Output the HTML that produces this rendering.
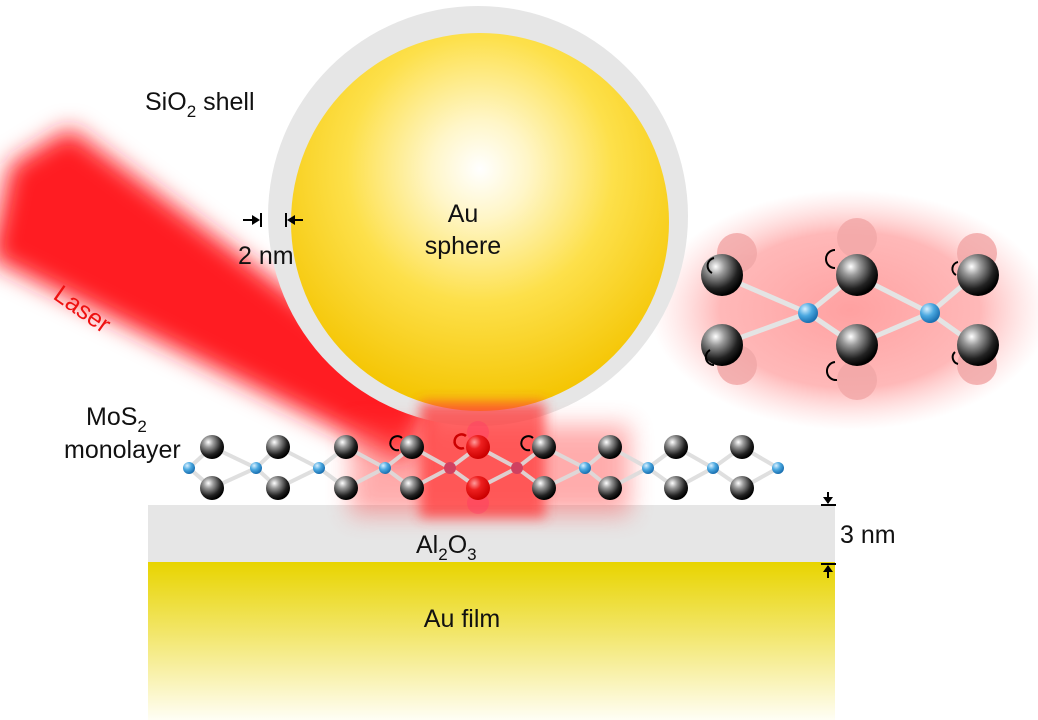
<!DOCTYPE html>
<html><head><meta charset="utf-8"><style>
html,body{margin:0;padding:0;background:#fff;}
svg{display:block;font-family:"Liberation Sans",sans-serif;}
</style></head><body>
<svg width="1038" height="720" viewBox="0 0 1038 720" xmlns="http://www.w3.org/2000/svg">
<defs>
<radialGradient id="gold" cx="0.5" cy="0.36" r="0.64">
<stop offset="0" stop-color="#ffffff"/><stop offset="0.2" stop-color="#fff6c8"/><stop offset="0.55" stop-color="#fde04a"/><stop offset="1" stop-color="#f4c400"/></radialGradient>
<linearGradient id="film" x1="0" y1="0" x2="0" y2="1">
<stop offset="0" stop-color="#e8d400"/><stop offset="0.45" stop-color="#f2e66a"/><stop offset="1" stop-color="#fffef5"/></linearGradient>
<radialGradient id="sph" cx="0.35" cy="0.3" r="0.7">
<stop offset="0" stop-color="#ffffff"/><stop offset="0.3" stop-color="#9a9a9a"/><stop offset="0.75" stop-color="#222"/><stop offset="1" stop-color="#000"/></radialGradient>
<radialGradient id="rsph" cx="0.35" cy="0.3" r="0.7">
<stop offset="0" stop-color="#ff9a9a"/><stop offset="0.4" stop-color="#ee2020"/><stop offset="1" stop-color="#c00"/></radialGradient>
<radialGradient id="mo" cx="0.35" cy="0.3" r="0.7">
<stop offset="0" stop-color="#d8f0ff"/><stop offset="0.5" stop-color="#4aa8e0"/><stop offset="1" stop-color="#1a6fb0"/></radialGradient>
<radialGradient id="glow" cx="0.5" cy="0.5" r="0.5">
<stop offset="0" stop-color="#ff9090" stop-opacity="0.85"/><stop offset="0.65" stop-color="#ff9a9a" stop-opacity="0.7"/><stop offset="1" stop-color="#ffc0c0" stop-opacity="0"/></radialGradient>
<filter id="blur" x="-30%" y="-30%" width="160%" height="160%"><feGaussianBlur stdDeviation="12"/></filter>
<filter id="blur2" x="-30%" y="-30%" width="160%" height="160%"><feGaussianBlur stdDeviation="6"/></filter>
</defs>

<ellipse cx="850" cy="310" rx="200" ry="120" fill="url(#glow)"/>

<polygon points="10,165 70,128 435,402 405,462 -10,258" fill="#ff1a22" filter="url(#blur)"/>

<circle cx="478" cy="216" r="210" fill="#e6e6e6"/>
<circle cx="480" cy="222" r="189" fill="url(#gold)"/>

<rect x="148" y="505" width="687" height="58" fill="#e6e6e6"/>
<rect x="148" y="562" width="687" height="158" fill="url(#film)"/>

<rect x="350" y="425" width="280" height="90" fill="#ff4a4a" opacity="0.45" filter="url(#blur)"/>
<rect x="420" y="402" width="125" height="116" fill="#ff3a3a" opacity="0.75" filter="url(#blur2)"/>

<g stroke="#dcdcdc" stroke-width="4" fill="none" opacity="0.9">
<polyline points="189,468 212,447 256,468 278,447 319,468 346,447 385,468 412,447 450,468 478,447 517,468 544,447 585,468 610,447 648,468 676,447 713,468 742,447 778,468"/>
<polyline points="189,468 212,488 256,468 278,488 319,468 346,488 385,468 412,488 450,468 478,488 517,468 544,488 585,468 610,488 648,468 676,488 713,468 742,488 778,468"/>
</g>
<g fill="url(#mo)">
<circle cx="189" cy="468" r="6"/><circle cx="256" cy="468" r="6"/><circle cx="319" cy="468" r="6"/><circle cx="385" cy="468" r="6"/>
<circle cx="585" cy="468" r="6"/><circle cx="648" cy="468" r="6"/><circle cx="713" cy="468" r="6"/><circle cx="778" cy="468" r="6"/>
</g>
<circle cx="450" cy="468" r="6" fill="#d04060"/><circle cx="517" cy="468" r="6" fill="#d04060"/>
<g fill="url(#sph)">
<circle cx="212" cy="447" r="12"/><circle cx="212" cy="488" r="12"/>
<circle cx="278" cy="447" r="12"/><circle cx="278" cy="488" r="12"/>
<circle cx="346" cy="447" r="12"/><circle cx="346" cy="488" r="12"/>
<circle cx="412" cy="447" r="12"/><circle cx="412" cy="488" r="12"/>
<circle cx="544" cy="447" r="12"/><circle cx="544" cy="488" r="12"/>
<circle cx="610" cy="447" r="12"/><circle cx="610" cy="488" r="12"/>
<circle cx="676" cy="447" r="12"/><circle cx="676" cy="488" r="12"/>
<circle cx="742" cy="447" r="12"/><circle cx="742" cy="488" r="12"/>
</g>
<circle cx="478" cy="432" r="11" fill="#f36" opacity="0.35"/>
<circle cx="478" cy="503" r="11" fill="#f36" opacity="0.35"/>
<circle cx="478" cy="447" r="12" fill="url(#rsph)"/><circle cx="478" cy="488" r="12" fill="url(#rsph)"/>
<g fill="none" stroke="#000" stroke-width="2">
<path d="M402,438 a7,7 0 1 0 -3,12"/><path d="M533,438 a7,7 0 1 0 -3,12"/>
</g>
<path d="M466,436 a7,7 0 1 0 -2,12" fill="none" stroke="#c00" stroke-width="2.5"/>

<g stroke="#e4e4e4" stroke-width="5">
<line x1="720" y1="275" x2="808" y2="313"/><line x1="720" y1="345" x2="808" y2="313"/>
<line x1="855" y1="275" x2="808" y2="313"/><line x1="855" y1="345" x2="808" y2="313"/>
<line x1="855" y1="275" x2="930" y2="313"/><line x1="855" y1="345" x2="930" y2="313"/>
<line x1="975" y1="275" x2="930" y2="313"/><line x1="975" y1="345" x2="930" y2="313"/>
</g>
<g fill="#f2a8a8" opacity="0.85">
<circle cx="737" cy="253" r="20"/><circle cx="857" cy="238" r="20"/><circle cx="977" cy="253" r="20"/>
<circle cx="737" cy="365" r="20"/><circle cx="857" cy="380" r="20"/><circle cx="977" cy="365" r="20"/>
</g>
<g fill="url(#sph)">
<circle cx="722" cy="275" r="21"/><circle cx="722" cy="345" r="21"/>
<circle cx="857" cy="275" r="21"/><circle cx="857" cy="345" r="21"/>
<circle cx="978" cy="275" r="21"/><circle cx="978" cy="345" r="21"/>
</g>
<circle cx="808" cy="313" r="10" fill="url(#mo)"/><circle cx="930" cy="313" r="10" fill="url(#mo)"/>
<g fill="none" stroke="#000" stroke-width="2">
<path d="M714,258 a8,8 0 0 0 -2,15"/><path d="M710,350 a8,8 0 0 0 4,15"/>
<path d="M835,250 a9,9 0 0 0 0,18"/><path d="M835,362 a9,9 0 0 0 2,18"/>
<path d="M958,262 a7,7 0 0 0 -2,13"/><path d="M955,352 a7,7 0 0 0 3,12"/>
</g>

<g stroke="#000" stroke-width="2" fill="#000">
<line x1="243" y1="220" x2="258" y2="220"/><line x1="261" y1="213" x2="261" y2="227"/>
<line x1="286" y1="213" x2="286" y2="227"/><line x1="289" y1="220" x2="303" y2="220"/>
<line x1="828" y1="492" x2="828" y2="503"/><line x1="821" y1="505" x2="836" y2="505"/>
<line x1="821" y1="564" x2="836" y2="564"/><line x1="828" y1="566" x2="828" y2="578"/>
</g>
<g fill="#000">
<polygon points="260,220 252,215 252,225"/><polygon points="287,220 295,215 295,225"/>
<polygon points="828,504 823,497 833,497"/><polygon points="828,565 823,572 833,572"/>
</g>

<g font-size="25" fill="#111">
<text x="145" y="110">SiO<tspan font-size="17" dy="7">2</tspan><tspan dy="-7"> shell</tspan></text>
<text x="463" y="222" text-anchor="middle">Au</text>
<text x="463" y="254" text-anchor="middle">sphere</text>
<text x="238" y="264">2 nm</text>
<text x="86" y="425">MoS<tspan font-size="17" dy="7">2</tspan></text>
<text x="64" y="458">monolayer</text>
<text x="416" y="553">Al<tspan font-size="17" dy="7">2</tspan><tspan dy="-7">O</tspan><tspan font-size="17" dy="7">3</tspan></text>
<text x="840" y="543">3 nm</text>
<text x="462" y="627" text-anchor="middle">Au film</text>
</g>
<text x="52" y="298" font-size="25" fill="#ee1111" transform="rotate(35 52 298)">Laser</text>
</svg>
</body></html>
